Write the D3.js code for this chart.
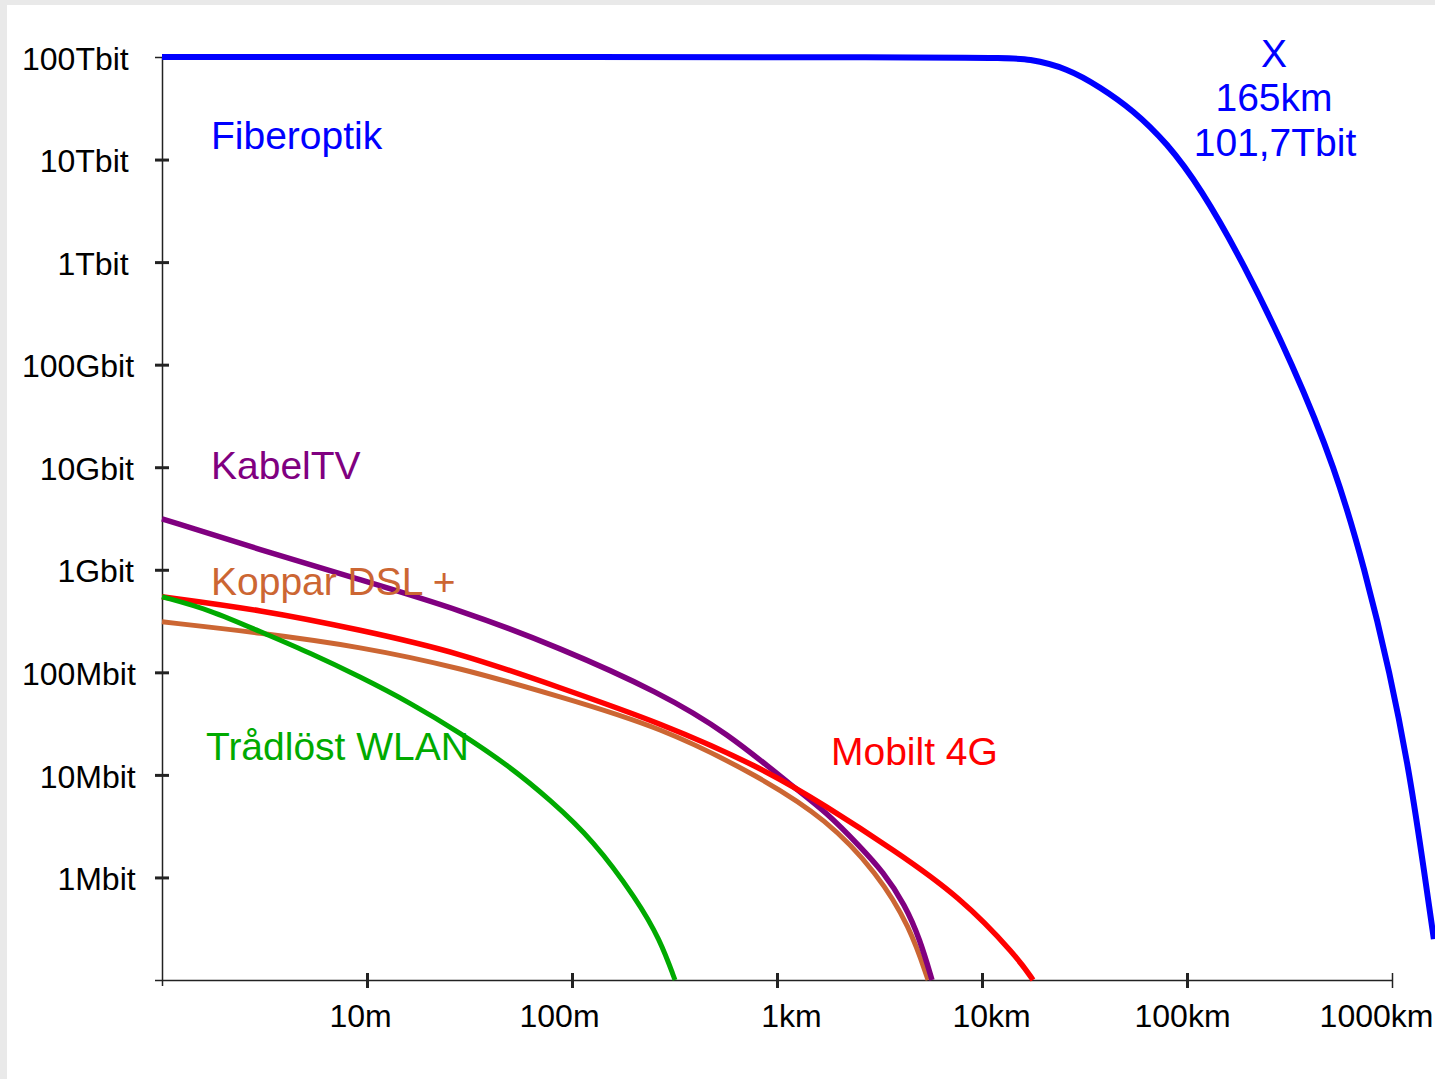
<!DOCTYPE html>
<html>
<head>
<meta charset="utf-8">
<script src="https://cdn.jsdelivr.net/npm/d3@7"></script>
<style>
  html, body { margin: 0; padding: 0; background: #fff; }
  text { font-family: Arial, "Liberation Sans", sans-serif; }
</style>
</head>
<body>
<div id="chart"></div>
<script>
// Data - distance in metres, capacity in bit/s
var rateTicks = [1e5, 1e6, 1e7, 1e8, 1e9, 1e10, 1e11, 1e12, 1e13, 1e14];
var rateLabels = ["", "1Mbit", "10Mbit", "100Mbit", "1Gbit", "10Gbit", "100Gbit", "1Tbit", "10Tbit", "100Tbit"];
var distTicks = [1, 10, 100, 1e3, 1e4, 1e5, 1e6];
var distLabels = ["", "10m", "100m", "1km", "10km", "100km", "1000km"];

var fiberDist = [1, 12240, 16950, 26000, 37650, 54550, 79850, 115700, 187600, 328800, 527000, 738500, 977800, 1224000, 1449000, 1600000];
var fiberRate = [1e14, 1e14, 9.6e13, 7.8e13, 5.1e13, 3.04e13, 1.45e13, 5.4e12, 1.0e12, 1.0e11, 1.0e10, 1.0e9, 9.9e7, 1.0e7, 1.0e6, 2.5e5];

var kabelDist = [1, 3.01, 9.25, 28.4, 87.4, 268.7, 570, 1197, 1754, 2541, 3289, 4211, 4985, 5703];
var kabelRate = [3.14e9, 1.57e9, 8.0e8, 4.07e8, 1.74e8, 6.33e7, 2.58e7, 7.67e6, 4.28e6, 2.0e6, 1.14e6, 5.43e5, 2.48e5, 1e5];

var mobilDist = [1, 3.01, 9.25, 28.4, 87.4, 268.7, 826, 1754, 3681, 7810, 14820, 17740];
var mobilRate = [5.46e8, 4.07e8, 2.6e8, 1.55e8, 7.08e7, 3.23e7, 1.2e7, 4.9e6, 1.87e6, 6.5e5, 1.69e5, 1e5];

var dslDist = [1, 3.01, 9.25, 28.4, 87.4, 268.7, 826, 1754, 3076, 4456, 5454];
var dslRate = [3.11e8, 2.43e8, 1.78e8, 1.11e8, 5.78e7, 2.95e7, 9.6e6, 3.66e6, 1.11e6, 3.3e5, 1e5];

var wlanDist = [1, 1.714, 3.01, 5.27, 9.25, 16.2, 28.4, 49.9, 78.1, 126.5, 207.5, 268.7, 318];
var wlanRate = [5.46e8, 4.07e8, 2.49e8, 1.55e8, 9.06e7, 5.06e7, 2.58e7, 1.2e7, 5.73e6, 2.33e6, 6.08e5, 2.48e5, 1e5];

// Canvas
var width = 1435;
var height = 1079;

var svg = d3.select("#chart")
  .append("svg")
  .attr("width", width)
  .attr("height", height);

// light grey frame on the left/top edge, like the screenshot
svg.append("rect").attr("width", width).attr("height", height).attr("fill", "#e9e9e9");
svg.append("rect").attr("x", 7).attr("y", 5).attr("width", width - 7).attr("height", height - 5).attr("fill", "#fff");

var x = d3.scaleLog().domain([1, 1e6]).range([162, 1392]);
var y = d3.scaleLog().domain([1e5, 1e14]).range([980, 57]);

// Y axis
var yAxis = svg.append("g")
  .attr("transform", "translate(" + x(1) + ",0)")
  .call(d3.axisLeft(y).tickValues(rateTicks).tickSizeInner(7).tickSizeOuter(0)
    .tickFormat(function (d, i) { return rateLabels[i]; }));

yAxis.select(".domain").attr("stroke", "#222").attr("stroke-width", 1.5);
yAxis.selectAll(".tick line")
  .attr("stroke", "#222")
  .attr("x1", function (d) { return (d === 1e5 || d === 1e14) ? 0 : 7; })
  .attr("stroke-width", function (d) { return (d === 1e5 || d === 1e14) ? 1.5 : 3; });
// labels sit left-aligned by number of digits (1, 10, 100)
yAxis.selectAll(".tick text")
  .attr("fill", "#000")
  .attr("font-size", 32)
  .attr("text-anchor", "start")
  .attr("dy", "0.38em")
  .attr("x", function (d) {
    var nd = Math.round(Math.log10(d)) % 3 + 1;
    return -140 + (3 - nd) * 17.7;
  });

// X axis
var xAxis = svg.append("g")
  .attr("transform", "translate(0," + y(1e5) + ")")
  .call(d3.axisBottom(x).tickValues(distTicks).tickSizeInner(7).tickSizeOuter(0)
    .tickFormat(function (d, i) { return distLabels[i]; }));

// small nudges so the labels sit where the original put them
var xNudge = { 10: -7, 100: -13, 1000: 14, 10000: 9, 100000: -5, 1000000: -16 };

xAxis.select(".domain").attr("stroke", "#222").attr("stroke-width", 1.5);
xAxis.selectAll(".tick line")
  .attr("stroke", "#222")
  .attr("y1", function (d) { return d === 1 ? 0 : -7; })
  .attr("y2", function (d) { return d === 1 ? 6 : 8; })
  .attr("stroke-width", function (d) { return (d === 1 || d === 1e6) ? 1.5 : 3; });
xAxis.selectAll(".tick text")
  .attr("fill", "#000")
  .attr("font-size", 32)
  .attr("y", 24)
  .attr("dy", "0.71em")
  .attr("dx", function (d) { return xNudge[d] || 0; });

// Lines
var line = d3.line()
  .x(function (d) { return x(d[0]); })
  .y(function (d) { return y(d[1]); })
  .curve(d3.curveBasis);

function zip(a, b) { return a.map(function (v, i) { return [v, b[i]]; }); }

var series = [
  { name: "dsl", pts: zip(dslDist, dslRate), color: "#cc6633", w: 5 },
  { name: "kabel", pts: zip(kabelDist, kabelRate), color: "#800080", w: 5.5 },
  { name: "mobil", pts: zip(mobilDist, mobilRate), color: "#ff0000", w: 5.5 },
  { name: "wlan", pts: zip(wlanDist, wlanRate), color: "#00aa00", w: 5 },
  { name: "fiber", pts: zip(fiberDist, fiberRate), color: "#0000ff", w: 6 }
];

svg.selectAll(".series")
  .data(series)
  .enter()
  .append("path")
  .attr("class", "series")
  .attr("d", function (d) { return line(d.pts); })
  .attr("fill", "none")
  .attr("stroke", function (d) { return d.color; })
  .attr("stroke-width", function (d) { return d.w; });

// Labels
var labels = svg.append("g").attr("font-size", 39);

labels.append("text").attr("x", 211).attr("y", 149).attr("fill", "#0000ff").text("Fiberoptik");
labels.append("text").attr("x", 211).attr("y", 479).attr("fill", "#800080").text("KabelTV");
labels.append("text").attr("x", 211).attr("y", 595).attr("fill", "#cc6633").text("Koppar DSL +");
labels.append("text").attr("x", 206).attr("y", 760).attr("fill", "#00aa00").text("Trådlöst WLAN");
labels.append("text").attr("x", 831).attr("y", 765).attr("fill", "#ff0000").text("Mobilt 4G");

var note = labels.append("g").attr("text-anchor", "middle").attr("fill", "#0000ff");
note.append("text").attr("x", 1274).attr("y", 67).text("X");
note.append("text").attr("x", 1274).attr("y", 111).text("165km");
note.append("text").attr("x", 1275).attr("y", 156).text("101,7Tbit");
</script>
</body>
</html>
